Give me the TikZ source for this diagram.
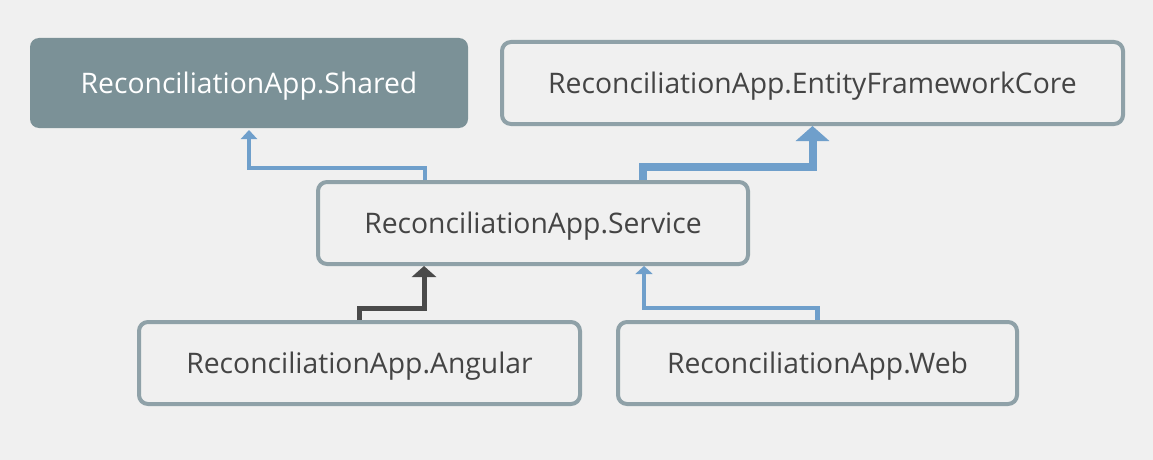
\documentclass[tikz,border=0pt]{standalone}
\usepackage{fontspec}
\setmainfont{Open Sans}
\usetikzlibrary{arrows.meta,shapes.geometric,calc,positioning}

\definecolor{bgcol}{HTML}{F0F0F0}
\definecolor{boxline}{HTML}{8FA1A8}
\definecolor{sharedfill}{HTML}{7B9197}
\definecolor{linkblue}{HTML}{6F9FCB}
\definecolor{linkdark}{HTML}{4A4A4A}
\definecolor{textcol}{HTML}{444444}

\begin{document}
\begin{tikzpicture}[x=1pt,y=-1pt]

        % Setup the styles for the projects
        \tikzset{box style/.style={draw=boxline,
                                   line width=4pt,
                                   rounded corners=9pt,
                                   fill=bgcol,
                                   text=textcol,
                                   minimum height=82pt,
                                   inner sep=0pt,
                                   text height=20pt,
                                   text depth=0pt,
                                   font=\fontsize{28.3}{34}\selectfont},
                 link style/.style={line width=4.5pt,
                                    draw=linkblue}}

        % Background
        \fill[bgcol] (0,0) rectangle (1153,460);
        \useasboundingbox (0,0) rectangle (1153,460);

        % Draw the projects
        \node[box style,draw=none,fill=sharedfill,text=white,
              minimum width=438pt,minimum height=90pt] at (249, 83)   (shr) {ReconciliationApp.Shared};
        \node[box style,minimum width=621pt] at (812.5, 83)   (ef)  {ReconciliationApp.EntityFrameworkCore};
        \node[box style,minimum width=430pt] at (533, 223)    (svc) {ReconciliationApp.Service};
        \node[box style,minimum width=441pt] at (359.5, 363)  (ang) {ReconciliationApp.Angular};
        \node[box style,minimum width=399pt] at (817.5, 363)  (web) {ReconciliationApp.Web};

        % Connect the projects with arrows
        \draw[link style,-{Triangle[width=16pt,length=9pt]}]
            ([xshift=-108pt]svc.north) -- ++(0,-12) -| (shr.south);
        \draw[link style,line width=8pt,-{Triangle[width=33pt,length=15pt]}]
            ([xshift=110pt]svc.north) -- ++(0,-13) -| (ef.south);
        \draw[link style,draw=linkdark,line width=5pt,-{Triangle[width=24pt,length=11pt]}]
            (ang.north) -- ++(0,-12) -| ([xshift=-109pt]svc.south);
        \draw[link style,-{Triangle[width=17pt,length=8pt]}]
            (web.north) -- ++(0,-12) -| ([xshift=111pt]svc.south);
    \end{tikzpicture}
\end{document}
